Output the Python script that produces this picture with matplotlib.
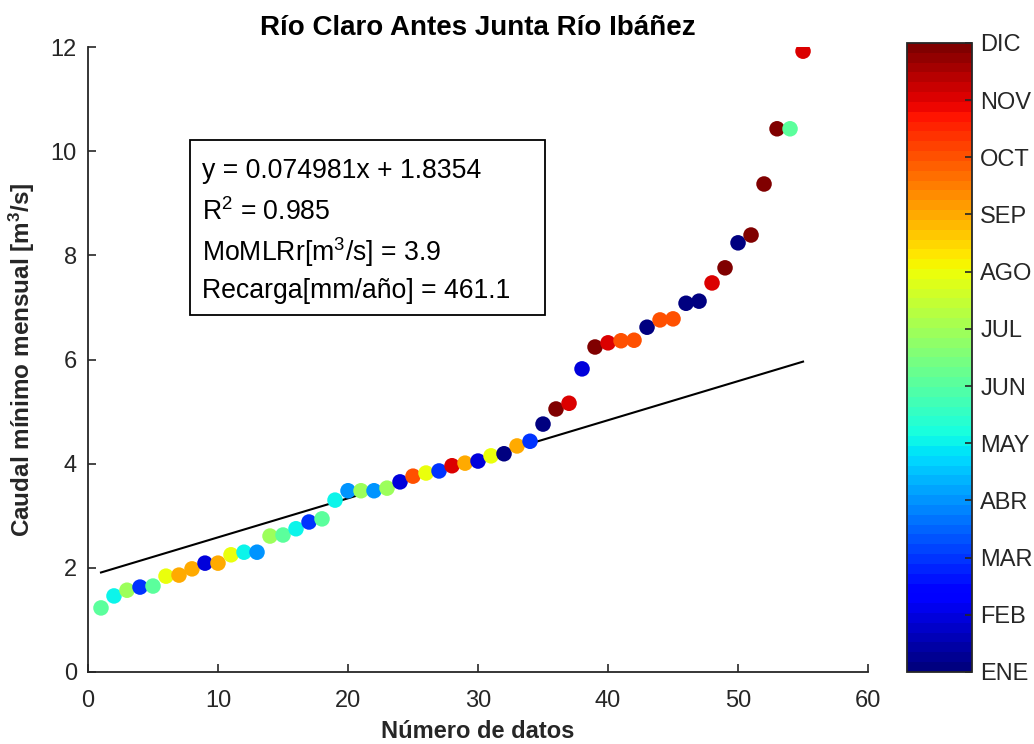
import matplotlib
matplotlib.use("Agg")
import matplotlib.pyplot as plt
import numpy as np
from matplotlib.colors import Normalize
from matplotlib.patches import Rectangle

plt.rcParams['mathtext.default'] = 'regular'

# ---- data ----
n_datos = list(range(1, 56))
caudal = [1.23, 1.46, 1.57, 1.63, 1.65, 1.84, 1.86, 1.98, 2.09, 2.09,
          2.25, 2.30, 2.30, 2.61, 2.63, 2.75, 2.88, 2.94, 3.30, 3.48,
          3.48, 3.48, 3.53, 3.65, 3.76, 3.82, 3.86, 3.96, 4.01, 4.05,
          4.15, 4.19, 4.34, 4.43, 4.76, 5.05, 5.16, 5.82, 6.24, 6.32,
          6.36, 6.37, 6.62, 6.76, 6.78, 7.08, 7.12, 7.47, 7.76, 8.24,
          8.39, 9.37, 10.43, 10.43, 11.92]
mes = [6, 5, 7, 3, 6, 8, 9, 9, 2, 9,
       8, 5, 4, 7, 6, 5, 3, 6, 5, 4,
       7, 4, 7, 2, 10, 8, 3, 11, 9, 2,
       8, 1, 9, 3, 1, 12, 11, 2, 12, 11,
       10, 10, 1, 10, 10, 1, 1, 11, 12, 1,
       12, 12, 12, 6, 11]
meses = ['ENE', 'FEB', 'MAR', 'ABR', 'MAY', 'JUN', 'JUL', 'AGO', 'SEP', 'OCT', 'NOV', 'DIC']
pendiente = 0.074981
intercepto = 1.8354
texto = ['y = 0.074981x + 1.8354', 'R$^2$ = 0.985',
         'MoMLRr[m$^3$/s] = 3.9', 'Recarga[mm/año] = 461.1']
x_ticks = [0, 10, 20, 30, 40, 50, 60]
y_ticks = [0, 2, 4, 6, 8, 10, 12]

narrow = ['Liberation Sans Narrow', 'Liberation Sans', 'DejaVu Sans']
regular = ['Liberation Sans', 'DejaVu Sans']
gray = '#262626'

fig = plt.figure(figsize=(10.34, 7.44), dpi=100)
ax = fig.add_axes([0.0851, 0.0968, 0.7544, 0.8400])
cmap = plt.get_cmap('jet', 64)
norm = Normalize(vmin=1, vmax=12)

sc = ax.scatter(n_datos, caudal, c=mes, cmap=cmap, norm=norm, s=125,
                edgecolors='none', zorder=3)
xl = np.array([n_datos[0], n_datos[-1]])
ax.plot(xl, pendiente * xl + intercepto, color='black', lw=1.5, zorder=2)

ax.set_xlim(0, 60)
ax.set_ylim(0, 12)
ax.set_xticks(x_ticks)
ax.set_yticks(y_ticks)
ax.spines['top'].set_visible(False)
ax.spines['right'].set_visible(False)
for s in ['left', 'bottom']:
    ax.spines[s].set_linewidth(1.3)
    ax.spines[s].set_color(gray)
ax.tick_params(direction='in', length=6, width=1.2, colors=gray, labelsize=17, pad=8)
ax.tick_params(axis='x', pad=13)
for lab in ax.get_xticklabels() + ax.get_yticklabels():
    lab.set_family(narrow)

ax.set_title('Río Claro Antes Junta Río Ibáñez', family=narrow, fontweight='bold',
             fontsize=20, pad=9, color='black')
ax.set_xlabel('Número de datos', family=narrow, fontweight='bold', fontsize=17,
              color=gray, labelpad=6)
ax.set_ylabel('Caudal mínimo mensual [m$^3$/s]', family=narrow, fontweight='bold',
              fontsize=17.5, color=gray, labelpad=10)

# text box
ax.add_patch(Rectangle((0.1308, 0.5712), 0.4551, 0.2800, transform=ax.transAxes,
                       facecolor='white', edgecolor='black', lw=1.3, zorder=4))
ys = [0.7904, 0.7232, 0.6576, 0.5984]
for t, yy in zip(texto, ys):
    ax.text(0.146, yy, t, transform=ax.transAxes, family=regular, fontsize=19.2,
            va='baseline', ha='left', color='black', zorder=5)

# colorbar
cax = fig.add_axes([0.877, 0.0968, 0.063, 0.8455])
cb = fig.colorbar(sc, cax=cax, ticks=list(range(1, 13)))
cb.ax.set_yticklabels(meses)
cb.outline.set_linewidth(1.3)
cb.outline.set_edgecolor(gray)
cb.ax.tick_params(direction='in', length=5, width=1.2, colors=gray, labelsize=17, pad=6)
for lab in cb.ax.get_yticklabels():
    lab.set_family(regular)

fig.savefig('out.png', dpi=100)
